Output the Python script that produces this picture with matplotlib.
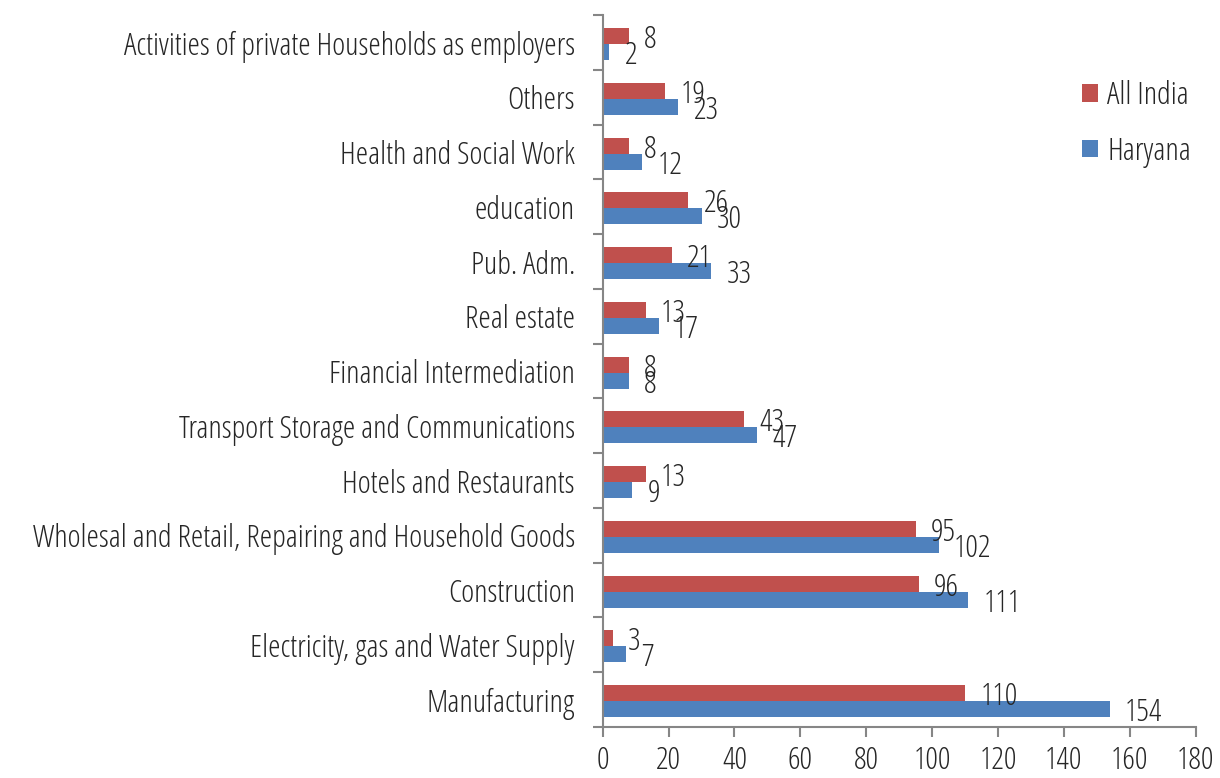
import matplotlib
matplotlib.use("Agg")
import matplotlib.pyplot as plt
import numpy as np

plt.rcParams['font.family'] = ["Open Sans", "DejaVu Sans"]
plt.rcParams['font.stretch'] = "condensed"
plt.rcParams['font.weight'] = 300

categories = ["Manufacturing", "Electricity, gas and Water Supply", "Construction",
              "Wholesal and Retail, Repairing and Household Goods", "Hotels and Restaurants",
              "Transport Storage and Communications", "Financial Intermediation", "Real estate",
              "Pub. Adm.", "education", "Health and Social Work", "Others",
              "Activities of private Households as employers"]
all_india = [110, 3, 96, 95, 13, 43, 8, 13, 21, 26, 8, 19, 8]
haryana = [154, 7, 111, 102, 9, 47, 8, 17, 33, 30, 12, 23, 2]
xticks = [0, 20, 40, 60, 80, 100, 120, 140, 160, 180]

red = "#C0504D"
blue = "#4F81BD"
grey = "#868686"
txt = "#262626"

fig = plt.figure(figsize=(12.2, 7.78), dpi=100)
ax = fig.add_axes([0.494, 0.0656, 0.486, 0.915])

y = np.arange(len(categories))
h = 0.292
ax.barh(y + h / 2 - 0.03, all_india, height=h, color=red, label="All India")
ax.barh(y - h / 2 - 0.03, haryana, height=h, color=blue, label="Haryana")

fs = 22.5
for yi, v in zip(y, all_india):
    ax.annotate(str(v), (v, yi + h / 2 - 0.03), xytext=(11, 0), textcoords="offset points",
                ha="left", va="center_baseline", fontsize=fs, color=txt)
for yi, v in zip(y, haryana):
    ax.annotate(str(v), (v, yi - h / 2 - 0.03), xytext=(11, 0), textcoords="offset points",
                ha="left", va="center_baseline", fontsize=fs, color=txt)

ax.set_xlim(0, 180)
ax.set_ylim(-0.5, len(categories) - 0.5)
ax.set_xticks(xticks)
ax.set_xticklabels([str(t) for t in xticks], fontsize=fs, color=txt)
ax.set_yticks(y)
ax.set_yticklabels(categories, fontsize=fs, color=txt)
ax.tick_params(axis="y", length=0, pad=20)
ax.set_yticks(np.arange(-0.5, len(categories), 1.0), minor=True)
ax.tick_params(axis="y", which="minor", length=7, width=1.5, color=grey, direction="out")
ax.tick_params(axis="x", length=7, width=1.5, color=grey, direction="out", pad=6)

for s in ["top", "right"]:
    ax.spines[s].set_visible(False)
for s in ["left", "bottom"]:
    ax.spines[s].set_color(grey)
    ax.spines[s].set_linewidth(1.5)

handles, labels = ax.get_legend_handles_labels()
leg = fig.legend(handles, labels, loc="upper left", bbox_to_anchor=(0.887, 0.897),
                 frameon=False, fontsize=fs, handlelength=0.5, handleheight=0.5,
                 labelspacing=0.75, handletextpad=0.3, borderaxespad=0, borderpad=0,
                 labelcolor=txt)

fig.savefig("out.png", dpi=100)
